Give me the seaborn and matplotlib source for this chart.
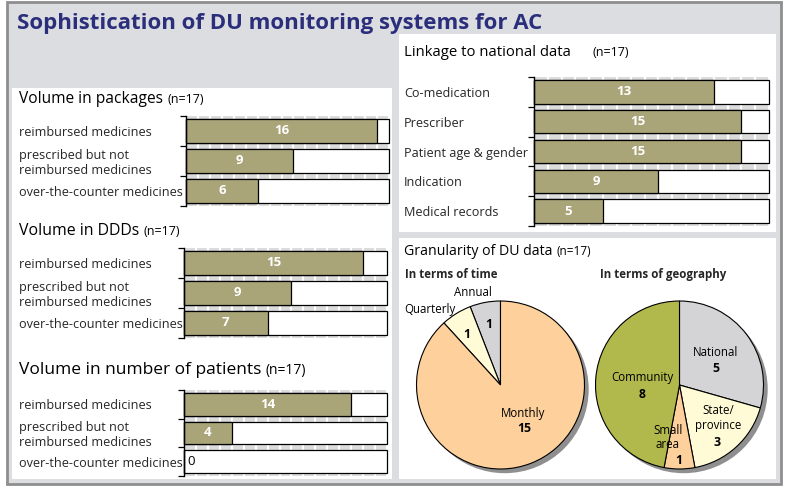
import numpy as np
import pandas as pd
import seaborn as sns
import matplotlib
matplotlib.use("Agg")
from matplotlib import pyplot as plt
from matplotlib.patches import Rectangle, Circle

# values
n_total = 17
med_labels = ["reimbursed medicines", "prescribed but not\nreimbursed medicines", "over-the-counter medicines"]
pkg_values = [16, 9, 6]
ddd_values = [15, 9, 7]
pat_values = [14, 4, 0]

link_labels = ["Co-medication", "Prescriber", "Patient age & gender", "Indication", "Medical records"]
link_values = [13, 15, 15, 9, 5]

time_labels = ["Annual", "Quarterly", "Monthly"]
time_values = [1, 1, 15]
geo_labels = ["National", "State/\nprovince", "Small\narea", "Community"]
geo_values = [5, 3, 1, 8]

OLIVE = "#aaa579"
NAVY = "#2b2f7b"
PANEL_GRAY = "#dcdde0"
DASH_GRAY = "#dcdcdc"
PEACH = "#fdd09c"
CREAM = "#fffbd6"
LGRAY = "#d4d4d6"
GREEN = "#b1b84c"

sns.set_theme(style="white")
plt.rcParams["font.family"] = ["Open Sans", "DejaVu Sans"]

W, H = 795, 495
fig = plt.figure(figsize=(W / 100, H / 100), dpi=100)
fig.patch.set_facecolor("white")


def px_axes(x0, y0, x1, y1):
    return fig.add_axes([x0 / W, 1 - y1 / H, (x1 - x0) / W, (y1 - y0) / H])


def box(x0, y0, x1, y1, **kw):
    fig.add_artist(Rectangle((x0 / W, 1 - y1 / H), (x1 - x0) / W, (y1 - y0) / H,
                             transform=fig.transFigure, zorder=-5, **kw))


def ftext(x, y, s, **kw):
    return fig.text(x / W, 1 - y / H, s, **kw)


def heading(x, y, s, size=11, nsize=9, gap=4):
    t = ftext(x, y, s, fontsize=size, color="black", va="baseline")
    fig.canvas.draw()
    bb = t.get_window_extent()
    ftext(bb.x1 + gap, y, "(n=%d)" % n_total, fontsize=nsize, color="black", va="baseline")


# background panels
box(7, 2, 781, 484, facecolor=PANEL_GRAY, edgecolor="#8e8e8e", lw=2)
box(12, 88, 392, 479, facecolor="white", lw=0)
box(399, 34, 776, 232, facecolor="white", lw=0)
box(399, 238, 776, 479, facecolor="white", lw=0)

ftext(17, 29, "Sophistication of DU monitoring systems for AC", fontsize=16,
      fontweight="bold", color=NAVY, va="baseline")


def bar_panel(rect, labels, values, label_x):
    x0, y0, x1, y1 = rect
    ax = px_axes(x0, y0, x1, y1)
    ax.set_facecolor(DASH_GRAY)
    df = pd.DataFrame({"label": labels, "value": values, "full": [n_total] * len(values)})
    sns.barplot(data=df, x="full", y="label", orient="h", color="white", saturation=1,
                width=0.78, edgecolor="black", linewidth=0.9, ax=ax)
    sns.barplot(data=df, x="value", y="label", orient="h", color=OLIVE, saturation=1,
                width=0.78, edgecolor="black", linewidth=0.9, ax=ax)
    for p in ax.patches:
        p.set_clip_on(False)
    ax.set_xlim(0, n_total)
    ax.set_xticks(range(n_total + 1))
    ax.grid(axis="x", color="white", lw=1.6)
    ax.grid(axis="y", visible=False)
    ax.set_axisbelow(True)
    ax.set_xlabel("")
    ax.set_ylabel("")
    ax.tick_params(axis="x", length=0, labelbottom=False)
    ax.tick_params(axis="y", which="major", length=0, pad=(x0 - label_x) * 0.72, labelsize=9.1)
    for t in ax.get_yticklabels():
        t.set_ha("left")
    ax.set_yticks(np.arange(-0.5, len(values)), minor=True)
    ax.tick_params(axis="y", which="minor", left=True, length=4, width=0.9,
                   color="black", direction="out")
    for side in ["top", "right", "bottom"]:
        ax.spines[side].set_visible(False)
    ax.spines["left"].set_color("black")
    ax.spines["left"].set_linewidth(1)
    for i, v in enumerate(values):
        if v > 0:
            ax.text(v / 2, i, str(v), color="white", fontweight="bold", fontsize=9.5,
                    ha="center", va="center")
        else:
            ax.text(0.3, i, "0", color="black", fontsize=9.5, ha="left", va="center")
    return ax


heading(19, 103, "Volume in packages", size=11.2, nsize=9)
bar_panel((186, 116, 389, 206), med_labels, pkg_values, 19)
heading(19, 235, "Volume in DDDs", size=11.4, nsize=9)
bar_panel((184, 248, 387, 338), med_labels, ddd_values, 19)
heading(19, 374, "Volume in number of patients", size=12.5, nsize=10)
bar_panel((184, 390, 387, 476), med_labels, pat_values, 19)

heading(404, 56, "Linkage to national data", size=10.7, nsize=9, gap=22)
bar_panel((534, 77, 769, 226), link_labels, link_values, 404)

heading(404, 255, "Granularity of DU data", size=10.2, nsize=8.5)
ftext(405, 278, "In terms of time", fontsize=8.3, fontweight="bold", va="baseline")
ftext(600, 278, "In terms of geography", fontsize=8.3, fontweight="bold", va="baseline")


def pie_panel(cx, cy, r, values, colors, counterclock):
    m = 1.15
    ax = px_axes(cx - r * m, cy - r * m, cx + r * m, cy + r * m)
    ax.add_patch(Circle((0.05, -0.05), 1, color="#8f8f8f", zorder=0.5, lw=0))
    ax.pie(values, colors=colors, startangle=90, counterclock=counterclock, radius=1,
           wedgeprops=dict(edgecolor="black", linewidth=0.8))
    ax.set_xlim(-m, m)
    ax.set_ylim(-m, m)
    ax.axis("off")
    return ax


pie_panel(500.5, 385, 84, time_values, [LGRAY, CREAM, PEACH], True)
pie_panel(679.5, 385, 84, geo_values, [LGRAY, CREAM, PEACH, GREEN], False)

lab = dict(fontsize=8.3, ha="center", va="center", color="black")
num = dict(fontsize=8.8, ha="center", va="center", color="black", fontweight="bold")
# time pie
ftext(473, 293, time_labels[0], **lab)
ftext(489, 325, str(time_values[0]), **num)
ftext(430, 309, time_labels[1], **lab)
ftext(467, 334, str(time_values[1]), **num)
ftext(523, 413, time_labels[2], **lab)
ftext(524, 429, str(time_values[2]), **num)
# geography pie
ftext(716, 352, geo_labels[0], **lab)
ftext(716, 368, str(geo_values[0]), **num)
ftext(718, 418, geo_labels[1], linespacing=1.1, **lab)
ftext(717, 442, str(geo_values[1]), **num)
ftext(668, 438, geo_labels[2], linespacing=1.1, **lab)
ftext(679, 460, str(geo_values[2]), **num)
ftext(642, 377, geo_labels[3], **lab)
ftext(642, 394, str(geo_values[3]), **num)

fig.savefig("out.png", dpi=100)
